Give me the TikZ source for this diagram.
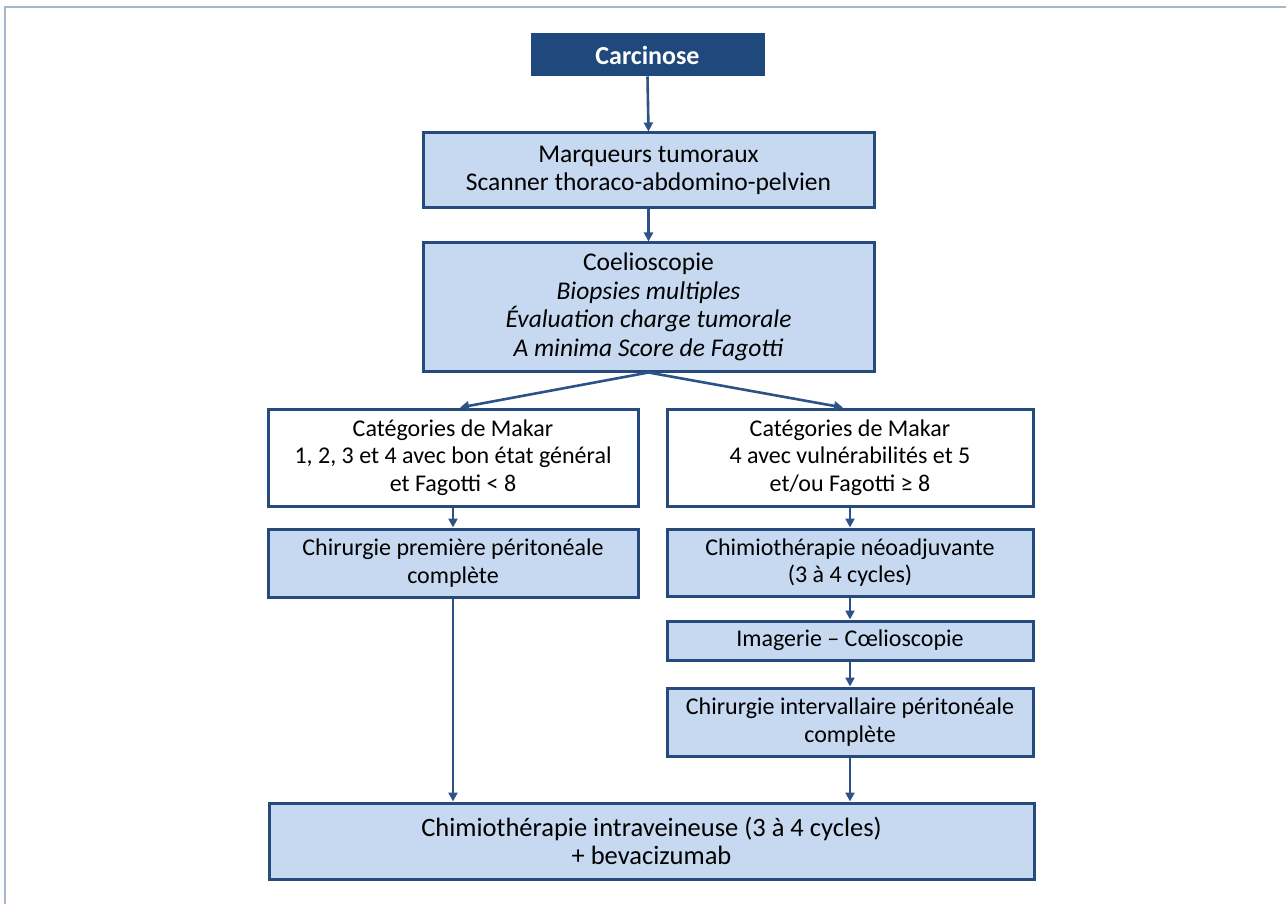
\documentclass[tikz,border=0pt]{standalone}
\usepackage{fontspec}
\setmainfont{Carlito}
\usetikzlibrary{arrows.meta,calc}
\definecolor{navy}{RGB}{31,73,125}
\definecolor{edgeblue}{RGB}{38,74,124}
\definecolor{lightfill}{RGB}{198,217,240}
\definecolor{arrowblue}{RGB}{44,82,135}
\definecolor{framecol}{RGB}{168,184,204}
\tikzset{
  box/.style={rectangle, draw=edgeblue, line width=3pt, fill=lightfill, inner sep=0pt,
    align=center, text=black, font=\fontsize{24}{27.5}\selectfont},
  whitebox/.style={box, fill=white},
  bigtext/.style={font=\fontsize{25.5}{28.5}\selectfont},
  headbox/.style={rectangle, fill=navy, draw=navy, line width=1pt, inner sep=0pt,
    text=white, font=\fontsize{26}{28}\selectfont\bfseries},
  link/.style={draw=arrowblue, line width=2.6pt, -{Triangle[length=9pt,width=9pt]}}
}
\begin{document}
\begin{tikzpicture}[x=1pt,y=-1pt]
\useasboundingbox (0,0) rectangle (1286,904);
\draw[framecol, line width=2pt] (1286,7) -- (5,7) -- (5,904);

\node[headbox, minimum width=233pt, minimum height=42pt] (carc) at (647.5,55) {Carcinose};
\node[box, bigtext, minimum width=451pt, minimum height=75pt] (marq) at (648.5,170.5)
  {Marqueurs tumoraux\\Scanner thoraco-abdomino-pelvien};
\node[box, bigtext, minimum width=451pt, minimum height=128pt] (coel) at (648.5,307)
  {Coelioscopie\\\textit{Biopsies multiples}\\\textit{Évaluation charge tumorale}\\\textit{A minima Score de Fagotti}};
\node[whitebox, minimum width=370pt, minimum height=97pt] (makl) at (453,457.5)
  {Catégories de Makar\\1, 2, 3 et 4 avec bon état général\\et Fagotti < 8};
\node[whitebox, minimum width=366pt, minimum height=97pt] (makr) at (850,457.5)
  {Catégories de Makar\\4 avec vulnérabilités et 5\\et/ou Fagotti ≥ 8};
\node[box, minimum width=370pt, minimum height=68pt] (chir1) at (453,563)
  {Chirurgie première péritonéale\\complète};
\node[box, minimum width=366pt, minimum height=67pt] (neo) at (850,562.5)
  {Chimiothérapie néoadjuvante\\(3 à 4 cycles)};
\node[box, minimum width=366pt, minimum height=39pt] (imag) at (850,640.5)
  {Imagerie – Cœlioscopie};
\node[box, minimum width=366pt, minimum height=68pt] (chir2) at (850,722)
  {Chirurgie intervallaire péritonéale\\complète};
\node[box, minimum width=765pt, minimum height=76pt, font=\fontsize{26.5}{28.5}\selectfont] (final) at (651.5,841)
  {Chimiothérapie intraveineuse (3 à 4 cycles)\\+ bevacizumab};

\draw[link] (carc.south) -- (marq.north);
\draw[link] (marq.south) -- (coel.north);
\draw[link] (coel.south) -- ([xshift=7pt]makl.north);
\draw[link] (coel.south) -- ([xshift=-7pt]makr.north);
\draw[link] (makl.south) -- (chir1.north);
\draw[link] (makr.south) -- (neo.north);
\draw[link] (neo.south) -- (imag.north);
\draw[link] (imag.south) -- (chir2.north);
\draw[link] (chir1.south) -- (chir1.south |- final.north);
\draw[link] (chir2.south) -- (chir2.south |- final.north);
\end{tikzpicture}
\end{document}
